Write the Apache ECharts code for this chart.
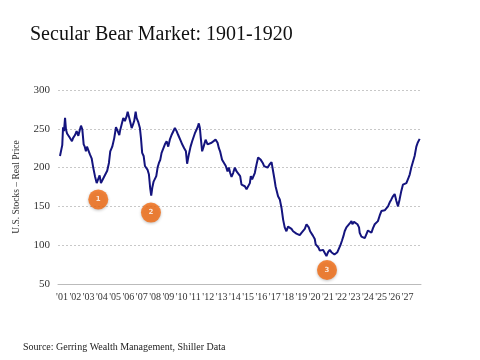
<!DOCTYPE html>
<html>
<head>
<meta charset="utf-8">
<script src="https://cdn.jsdelivr.net/npm/echarts@6/dist/echarts.min.js"></script>
<style>
html,body{margin:0;padding:0;background:#fff;}
#chart{width:480px;height:360px;}
</style>
</head>
<body>
<div id="chart"></div>
<script>
// decimal years
var years = [1900.85,1901.02,1901.08,1901.15,1901.23,1901.30,1901.38,1901.53,1901.68,1901.75,1901.83,1901.98,1902.10,1902.23,1902.35,1902.43,1902.53,1902.63,1902.71,1902.80,1902.88,1903.01,1903.10,1903.23,1903.35,1903.48,1903.61,1903.73,1903.83,1903.93,1904.03,1904.13,1904.28,1904.40,1904.53,1904.63,1904.78,1904.93,1905.06,1905.19,1905.31,1905.36,1905.49,1905.61,1905.73,1905.86,1905.94,1906.03,1906.13,1906.24,1906.33,1906.43,1906.54,1906.61,1906.73,1906.86,1906.94,1907.03,1907.14,1907.24,1907.33,1907.44,1907.54,1907.63,1907.71,1907.79,1907.89,1907.99,1908.09,1908.19,1908.29,1908.39,1908.49,1908.61,1908.74,1908.87,1908.99,1909.11,1909.24,1909.36,1909.49,1909.62,1909.74,1909.87,1909.94,1910.04,1910.11,1910.19,1910.32,1910.41,1910.54,1910.67,1910.79,1910.90,1910.99,1911.09,1911.20,1911.29,1911.37,1911.44,1911.54,1911.65,1911.80,1911.95,1912.10,1912.25,1912.40,1912.55,1912.70,1912.80,1912.89,1913.04,1913.19,1913.32,1913.45,1913.55,1913.65,1913.75,1913.87,1914.00,1914.13,1914.25,1914.40,1914.50,1914.62,1914.75,1914.88,1915.00,1915.13,1915.20,1915.30,1915.40,1915.50,1915.63,1915.75,1915.82,1915.95,1916.10,1916.20,1916.33,1916.46,1916.61,1916.76,1916.88,1916.98,1917.06,1917.13,1917.25,1917.38,1917.51,1917.63,1917.75,1917.88,1918.00,1918.13,1918.26,1918.38,1918.51,1918.63,1918.75,1918.88,1919.01,1919.13,1919.26,1919.39,1919.46,1919.56,1919.66,1919.76,1919.88,1920.01,1920.08,1920.18,1920.29,1920.39,1920.51,1920.63,1920.76,1920.89,1921.01,1921.14,1921.26,1921.38,1921.49,1921.59,1921.71,1921.81,1921.94,1922.06,1922.17,1922.26,1922.39,1922.51,1922.64,1922.77,1922.84,1922.96,1923.09,1923.22,1923.34,1923.39,1923.52,1923.64,1923.77,1923.89,1924.01,1924.14,1924.27,1924.39,1924.52,1924.64,1924.76,1924.89,1925.02,1925.14,1925.27,1925.40,1925.52,1925.64,1925.77,1925.89,1926.02,1926.15,1926.27,1926.39,1926.52,1926.64,1926.77,1926.90,1927.02,1927.15,1927.27,1927.39,1927.52,1927.65,1927.75,1927.80,1927.90];
// U.S. stocks real price
var prices = [215,229,252,247,264,249,244,240,238,234,238,242,247,241,249,254,249,230,227,221,227,225,217,212,200,189,180,182,190,180,182,187,189,196,206,221,227,238,252,247,242,247,256,264,260,266,272,266,259,251,255,260,272,264,259,251,238,219,215,202,204,197,191,174,164,174,182,180,189,200,206,210,219,219,230,234,227,236,242,244,251,247,242,240,234,230,232,225,221,205,217,227,234,233,244,242,252,257,251,238,221,227,236,230,230,232,234,236,232,225,221,210,208,202,195,200,193,188,193,200,195,193,189,178,176,176,172,174,180,189,185,187,193,204,213,215,210,206,202,204,200,204,207,195,185,176,178,163,159,148,133,123,118,124,122,121,118,116,115,114,113,116,118,121,127,128,123,118,119,112,108,101,99,97,93,91,94,93,86,91,94,91,93,88,88,91,95,100,106,112,118,123,124,128,131,127,130,132,127,123,116,111,110,109,114,119,118,116,122,127,125,131,138,144,142,145,147,150,155,159,163,166,157,150,159,170,178,176,180,185,191,200,202,215,227,232,230,237];
// yAxis ticks
var yTicks = [50, 100, 150, 200, 250, 300];
// x tick labels (years)
var xTickYears = [];
for (var y = 1901; y <= 1927; y++) xTickYears.push(y);
// numbered trough markers
var markerYears = [1903.73, 1907.69, 1920.93];
var markerValues = [159, 142, 68];
var markerLabels = ['1', '2', '3'];

var serif = '"Liberation Serif", "DejaVu Serif", serif';

var lineData = years.map(function (yr, i) { return [yr, prices[i]]; });
var markerData = markerYears.map(function (yr, i) { return { value: [yr, markerValues[i]], name: markerLabels[i] }; });

var chart = echarts.init(document.getElementById('chart'), null, { renderer: 'canvas' });
chart.setOption({
  animation: false,
  backgroundColor: '#ffffff',
  title: [
    { text: 'Secular Bear Market: 1901-1920', left: 25, top: 20,
      textStyle: { fontFamily: serif, fontSize: 20, fontWeight: 'normal', color: '#111' } },
    { text: 'Source: Gerring Wealth Management, Shiller Data', left: 18, top: 337,
      textStyle: { fontFamily: serif, fontSize: 10, fontWeight: 'normal', color: '#222' } }
  ],
  grid: { left: 58, right: 59, top: 90, bottom: 76 },
  xAxis: {
    type: 'value', min: 1900.7, max: 1928.0,
    axisLine: { show: true, lineStyle: { color: '#bbbbbb', width: 1 } },
    axisTick: { show: false },
    splitLine: { show: false },
    axisLabel: {
      customValues: xTickYears,
      formatter: function (v) { return "'" + String(Math.round(v)).slice(2); },
      fontFamily: serif, fontSize: 10, color: '#333', margin: 8
    }
  },
  yAxis: {
    type: 'value', min: yTicks[0], max: yTicks[yTicks.length - 1], interval: 50,
    name: 'U.S. Stocks – Real Price', nameLocation: 'middle', nameGap: 37,
    nameTextStyle: { fontFamily: serif, fontSize: 9.5, color: '#333' },
    axisLine: { show: false },
    axisTick: { show: false },
    axisLabel: { fontFamily: serif, fontSize: 11, color: '#333', margin: 8 },
    splitLine: { show: true, lineStyle: { color: '#c8c8c8', type: [2, 2], width: 1 } }
  },
  series: [
    {
      type: 'line', data: lineData, showSymbol: false, symbol: 'none',
      lineStyle: { color: '#14147e', width: 2 }, z: 3
    },
    {
      type: 'scatter', data: markerData, symbol: 'circle', symbolSize: 20,
      itemStyle: { color: '#f26a10', shadowColor: 'rgba(0,0,0,0.3)', shadowBlur: 3, shadowOffsetY: 1 },
      label: { show: true, position: 'inside', formatter: function (p) { return p.name; },
        color: '#fff', fontSize: 7, fontWeight: 'bold', fontFamily: 'DejaVu Sans' },
      z: 4
    }
  ]
});
</script>
</body>
</html>
